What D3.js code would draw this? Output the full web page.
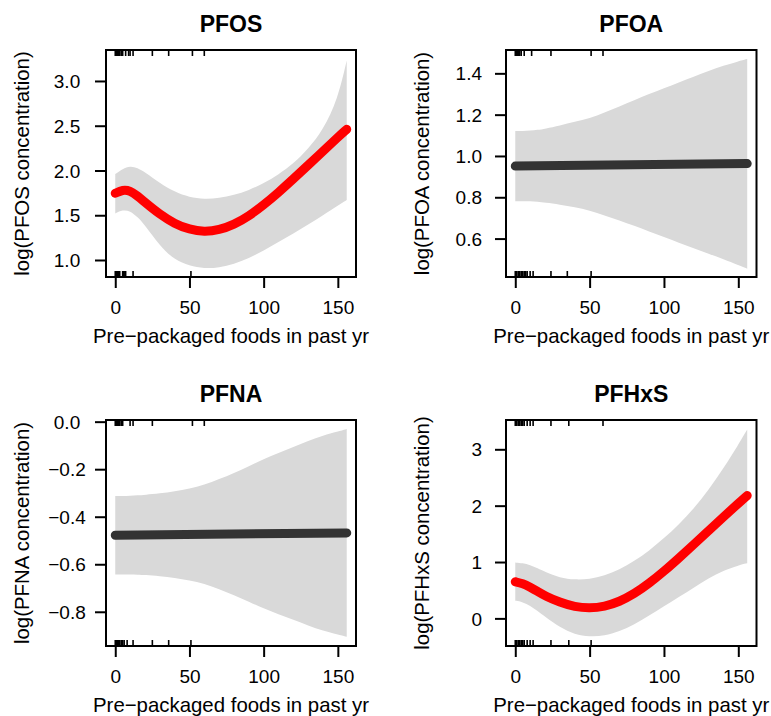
<!DOCTYPE html>
<html>
<head>
<meta charset="utf-8">
<script src="https://cdn.jsdelivr.net/npm/d3@7"></script>
<style>
  body { margin: 0; background: #fff; }
  svg { display: block; font-family: "Liberation Sans", Arial, Helvetica, sans-serif; }
</style>
</head>
<body>
<div id="chart"></div>
<script>
const xGrid = [0, 5, 10, 15, 20, 30, 40, 50, 60, 70, 80, 90, 100, 110, 120, 130, 140, 150, 156];
const lineEnds = [0, 156];

// PFOS (spline fit)
const pfosFit   = [1.745, 1.785, 1.775, 1.715, 1.645, 1.51, 1.405, 1.34, 1.315, 1.335, 1.395, 1.49, 1.615, 1.755, 1.905, 2.06, 2.215, 2.37, 2.46];
const pfosUpper = [1.96, 2.02, 2.05, 2.03, 1.98, 1.86, 1.76, 1.70, 1.68, 1.69, 1.725, 1.78, 1.855, 1.955, 2.075, 2.24, 2.45, 2.80, 3.23];
const pfosLower = [1.52, 1.56, 1.55, 1.48, 1.39, 1.16, 1.0, 0.935, 0.905, 0.915, 0.955, 1.02, 1.105, 1.20, 1.295, 1.395, 1.50, 1.61, 1.67];

// PFOA (linear fit)
const pfoaFit   = [0.951, 0.963];
const pfoaUpper = [1.121, 1.121, 1.123, 1.126, 1.132, 1.147, 1.166, 1.182, 1.21, 1.24, 1.27, 1.30, 1.328, 1.356, 1.384, 1.411, 1.437, 1.458, 1.470];
const pfoaLower = [0.781, 0.781, 0.781, 0.778, 0.774, 0.765, 0.752, 0.736, 0.712, 0.688, 0.662, 0.635, 0.607, 0.58, 0.553, 0.527, 0.500, 0.472, 0.454];

// PFNA (linear fit)
const pfnaFit   = [-0.478, -0.468];
const pfnaUpper = [-0.313, -0.313, -0.312, -0.310, -0.308, -0.302, -0.293, -0.282, -0.266, -0.242, -0.216, -0.188, -0.157, -0.132, -0.107, -0.081, -0.058, -0.041, -0.031];
const pfnaLower = [-0.643, -0.643, -0.643, -0.644, -0.645, -0.650, -0.658, -0.668, -0.682, -0.705, -0.730, -0.757, -0.786, -0.810, -0.834, -0.858, -0.880, -0.896, -0.905];

// PFHxS (spline fit)
const pfhxsFit   = [0.65, 0.62, 0.555, 0.48, 0.40, 0.285, 0.205, 0.18, 0.21, 0.295, 0.435, 0.62, 0.835, 1.07, 1.31, 1.555, 1.80, 2.04, 2.18];
const pfhxsUpper = [0.99, 0.98, 0.95, 0.89, 0.825, 0.72, 0.685, 0.695, 0.755, 0.865, 1.015, 1.20, 1.42, 1.665, 1.945, 2.28, 2.66, 3.08, 3.35];
const pfhxsLower = [0.315, 0.29, 0.225, 0.13, 0.03, -0.16, -0.285, -0.326, -0.31, -0.23, -0.11, 0.05, 0.215, 0.38, 0.545, 0.71, 0.85, 0.94, 0.98];

// rug marks (observed exposure values)
const pfosRugTop = [0, 0.5, 1, 1.5, 2, 2.5, 3, 4, 5, 7, 9, 10, 12, 25, 36, 52, 60];
const pfosRugBottom = [0, 0.5, 1, 1.5, 2, 3, 5, 5.5, 6, 7, 12, 51];
const pfoaRugTop = [0, 0.5, 1, 1.5, 2, 3, 4, 6, 11, 24, 51, 59];
const pfoaRugBottom = [0, 1, 2, 3, 4, 5, 6, 7, 8, 10, 12, 24, 35, 51];
const pfnaRugTop = [0, 0.5, 1, 1.5, 2, 3, 4, 5, 10, 12, 25, 52, 60];
const pfnaRugBottom = [0, 0.5, 1, 1.5, 2, 3, 4, 5, 6, 8, 12, 25, 36, 51];
const pfhxsRugTop = [0, 1, 2, 3, 4, 5, 6, 8, 10, 12, 24, 36, 59];
const pfhxsRugBottom = [0, 1, 2, 3, 4, 5, 6, 8, 10, 12, 24, 36, 51];

const xTicks = [0, 50, 100, 150];
const xLabel = "Pre\u2212packaged foods in past yr";

const width = 771, height = 716;

const panels = [
  { title: "PFOS", ylab: "log(PFOS concentration)", box: [106, 50, 356, 277],
    yDomain: [0.81, 3.346], yTicks: [1.0, 1.5, 2.0, 2.5, 3.0], fmt: ".1f",
    fitX: xGrid, fit: pfosFit, upper: pfosUpper, lower: pfosLower, color: "#ff0000",
    rugTop: pfosRugTop, rugBottom: pfosRugBottom, anchor: "middle" },
  { title: "PFOA", ylab: "log(PFOA concentration)", box: [506, 50, 756.5, 277],
    yDomain: [0.414, 1.513], yTicks: [0.6, 0.8, 1.0, 1.2, 1.4], fmt: ".1f",
    fitX: lineEnds, fit: pfoaFit, upper: pfoaUpper, lower: pfoaLower, color: "#333333",
    rugTop: pfoaRugTop, rugBottom: pfoaRugBottom, anchor: "end" },
  { title: "PFNA", ylab: "log(PFNA concentration)", box: [106, 420, 356, 646],
    yDomain: [-0.944, 0.007], yTicks: [-0.8, -0.6, -0.4, -0.2, 0.0], fmt: ".1f",
    fitX: lineEnds, fit: pfnaFit, upper: pfnaUpper, lower: pfnaLower, color: "#333333",
    rugTop: pfnaRugTop, rugBottom: pfnaRugBottom, anchor: "middle" },
  { title: "PFHxS", ylab: "log(PFHxS concentration)", box: [506, 420, 756.5, 646],
    yDomain: [-0.49, 3.52], yTicks: [0, 1, 2, 3], fmt: "d",
    fitX: xGrid, fit: pfhxsFit, upper: pfhxsUpper, lower: pfhxsLower, color: "#ff0000",
    rugTop: pfhxsRugTop, rugBottom: pfhxsRugBottom, anchor: "end" }
];

const svg = d3.select("#chart")
  .append("svg")
  .attr("width", width)
  .attr("height", height);

panels.forEach(p => {
  const [x0, y0, x1, y1] = p.box;
  const x = d3.scaleLinear().domain([-6.24, 162.24]).range([x0, x1]);
  const y = d3.scaleLinear().domain(p.yDomain).range([y1, y0]);
  const g = svg.append("g");

  // confidence band
  const band = d3.area()
    .x((d, i) => x(xGrid[i]))
    .y0((d, i) => y(p.lower[i]))
    .y1((d, i) => y(p.upper[i]))
    .curve(d3.curveBasis);
  g.append("path")
    .datum(p.upper)
    .attr("d", band)
    .attr("fill", "#d9d9d9");

  // fitted line
  const line = d3.line()
    .x((d, i) => x(p.fitX[i]))
    .y(d => y(d))
    .curve(d3.curveBasis);
  g.append("path")
    .datum(p.fit)
    .attr("d", line)
    .attr("fill", "none")
    .attr("stroke", p.color)
    .attr("stroke-width", 9)
    .attr("stroke-linecap", "round")
    .attr("stroke-linejoin", "round");

  // rugs inside the box
  g.selectAll(".rugTop")
    .data(p.rugTop)
    .join("line")
    .attr("x1", d => x(d)).attr("x2", d => x(d))
    .attr("y1", y0).attr("y2", y0 + 6)
    .attr("stroke", "#000").attr("stroke-width", 1.6);
  g.selectAll(".rugBottom")
    .data(p.rugBottom)
    .join("line")
    .attr("x1", d => x(d)).attr("x2", d => x(d))
    .attr("y1", y1).attr("y2", y1 - 6)
    .attr("stroke", "#000").attr("stroke-width", 1.6);

  // axes
  const xa = g.append("g")
    .attr("transform", `translate(0,${y1})`)
    .call(d3.axisBottom(x).tickValues(xTicks).tickSize(11).tickSizeOuter(0).tickPadding(12.5));
  const ya = g.append("g")
    .attr("transform", `translate(${x0},0)`)
    .call(d3.axisLeft(y).tickValues(p.yTicks).tickFormat(d3.format(p.fmt)).tickSize(11).tickSizeOuter(0));
  [xa, ya].forEach(a => {
    a.select(".domain").remove();
    a.selectAll(".tick line").attr("stroke", "#000").attr("stroke-width", 2);
    a.selectAll("text").attr("fill", "#000").attr("font-size", 19).attr("font-family", null);
  });
  ya.selectAll("text")
    .attr("text-anchor", p.anchor)
    .attr("x", p.anchor === "middle" ? -39 : -24)
    .attr("dy", "0.35em");

  // box
  g.append("rect")
    .attr("x", x0).attr("y", y0)
    .attr("width", x1 - x0).attr("height", y1 - y0)
    .attr("fill", "none").attr("stroke", "#000").attr("stroke-width", 2);

  // titles
  g.append("text")
    .attr("x", (x0 + x1) / 2).attr("y", y0 - 18)
    .attr("text-anchor", "middle")
    .attr("font-size", 23).attr("font-weight", "bold")
    .text(p.title);
  g.append("text")
    .attr("x", (x0 + x1) / 2).attr("y", y1 + 66)
    .attr("text-anchor", "middle")
    .attr("font-size", 20.4)
    .text(xLabel);
  g.append("text")
    .attr("transform", `translate(${x0 - 77},${(y0 + y1) / 2}) rotate(-90)`)
    .attr("text-anchor", "middle")
    .attr("font-size", 20.4)
    .text(p.ylab);
});
</script>
</body>
</html>
